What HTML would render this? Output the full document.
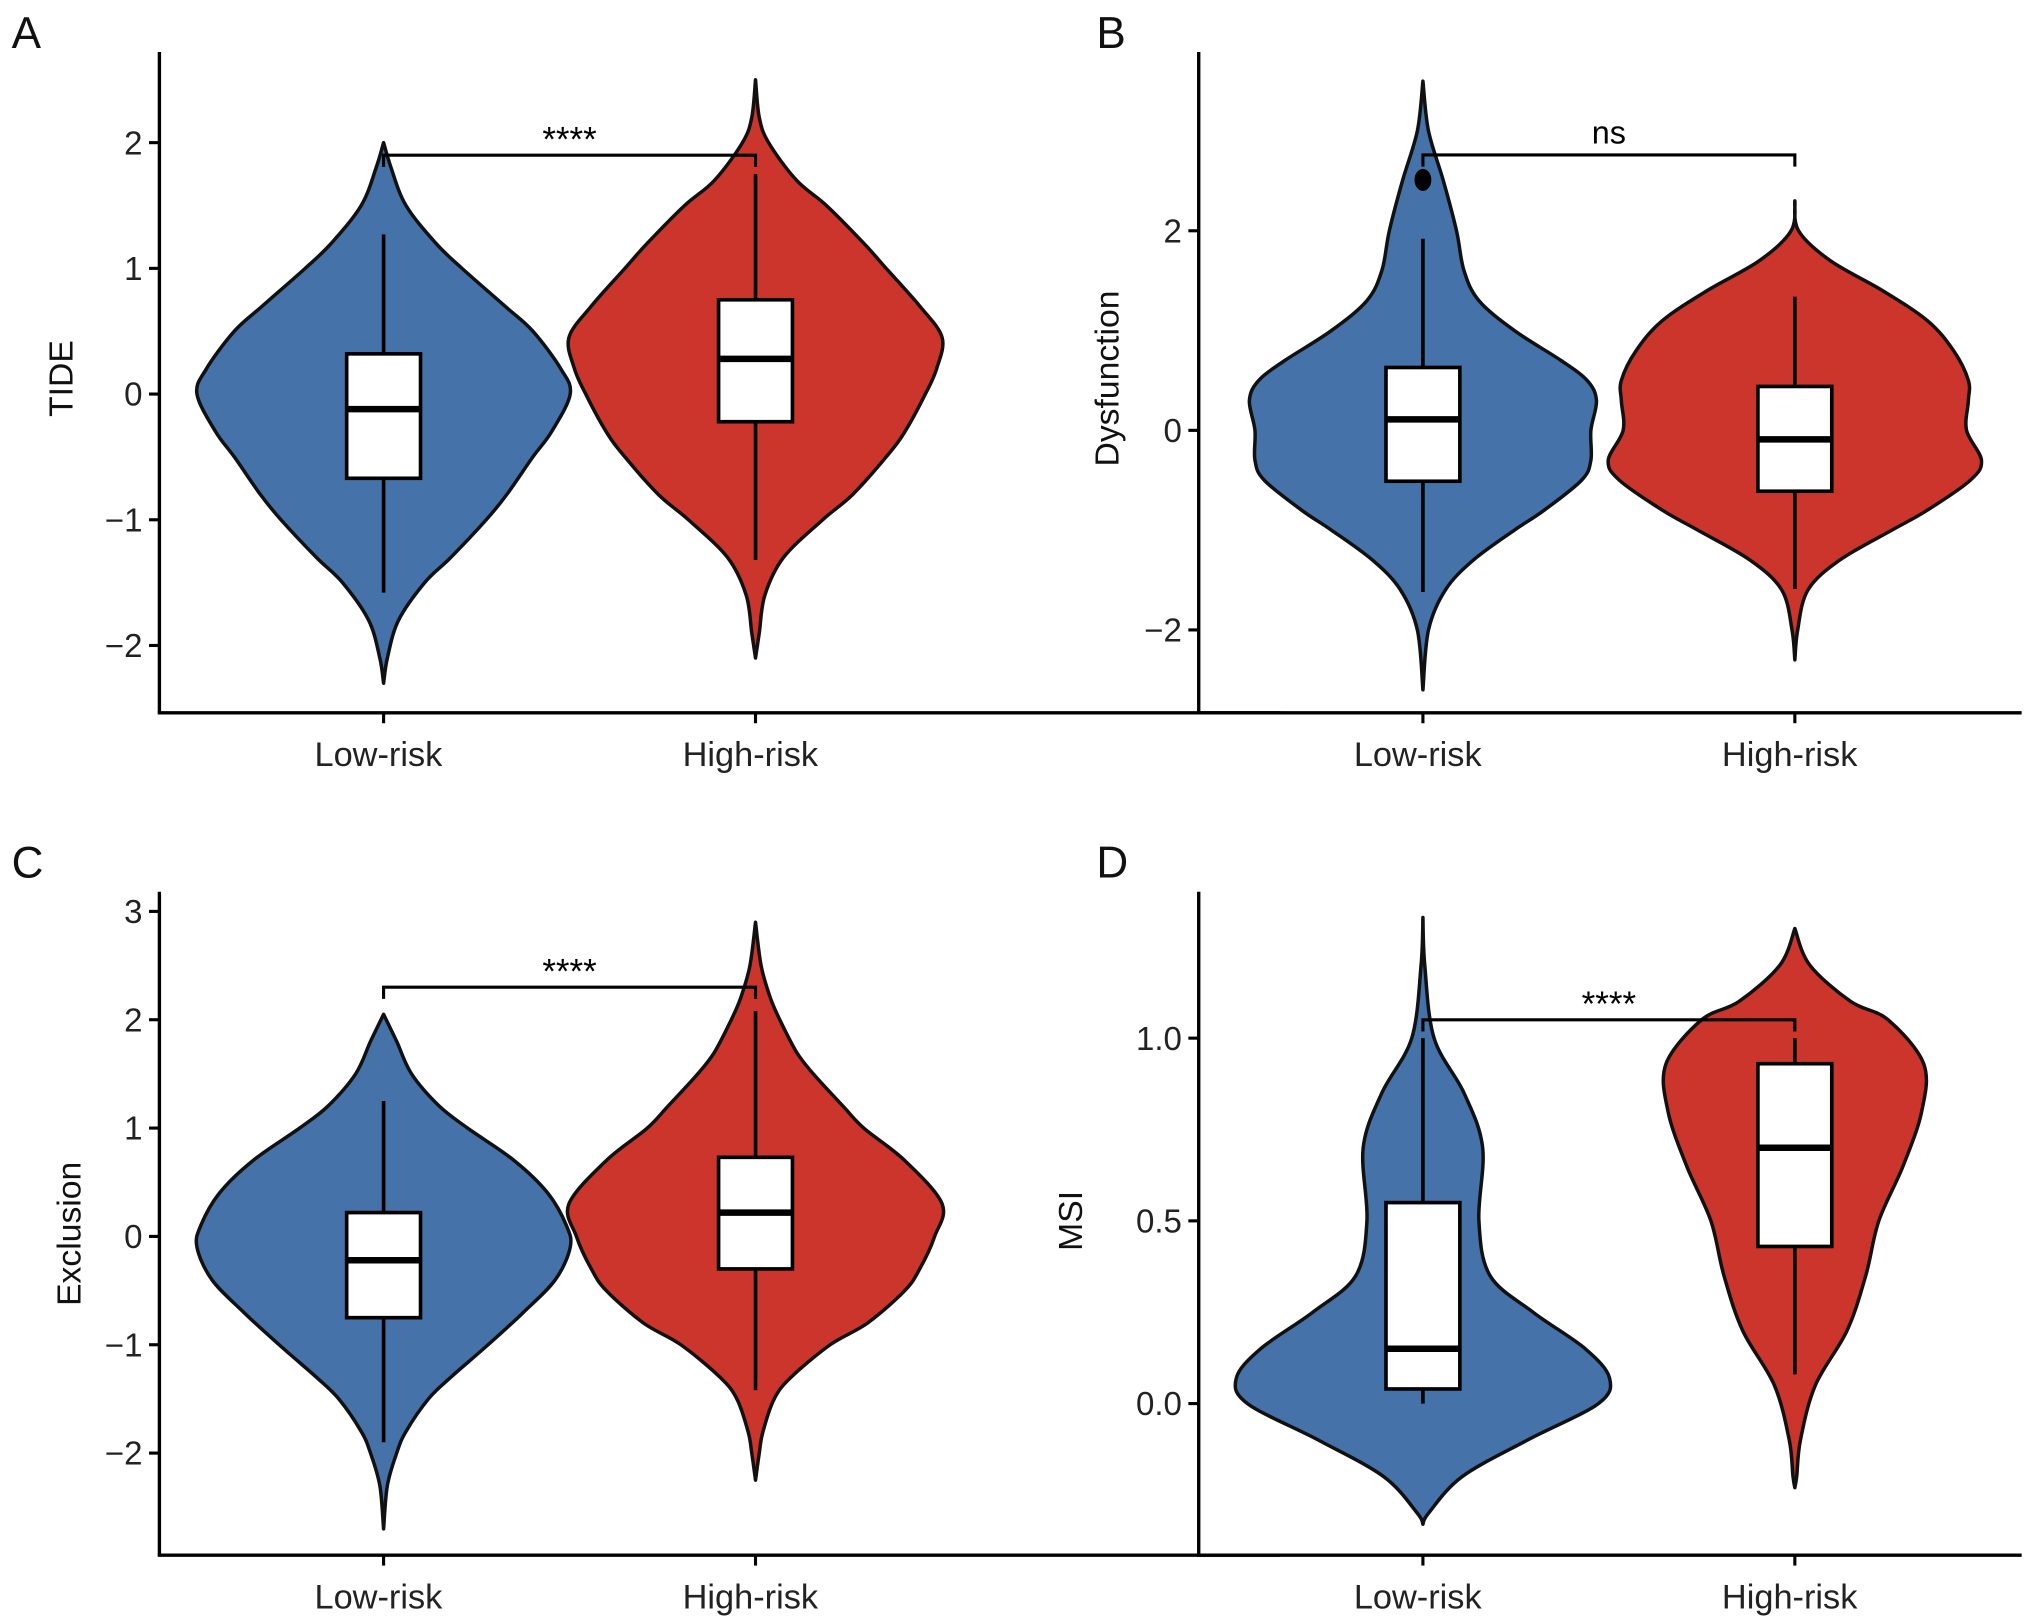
<!DOCTYPE html>
<html><head><meta charset="utf-8"><style>
html,body{margin:0;padding:0;background:#fff;}
svg{display:block;font-family:"Liberation Sans",Arial,sans-serif;}
</style></head><body>
<svg id="fig" width="2032" height="1624" viewBox="0 0 1568 1253" xmlns="http://www.w3.org/2000/svg"></svg>
<script>
const categories = ["Low-risk","High-risk"];
// Panel A (TIDE)
const aTicks = [2,1,0,-1,-2];
const aLowY = [2.0,1.8,1.5,1.2,1.0,0.7,0.5,0.2,0,-0.3,-0.5,-0.8,-1,-1.3,-1.5,-1.8,-2.1,-2.3];
const aLowW = [0,0.04,0.12,0.28,0.42,0.65,0.8,0.95,1.0,0.9,0.8,0.66,0.55,0.36,0.22,0.08,0.02,0];
const aHighY = [2.5,2.2,2.0,1.7,1.5,1.2,1.0,0.7,0.45,0.2,0,-0.3,-0.5,-0.8,-1,-1.3,-1.6,-1.9,-2.1];
const aHighW = [0,0.02,0.07,0.22,0.38,0.58,0.7,0.88,1.0,0.97,0.91,0.8,0.7,0.52,0.36,0.15,0.05,0.02,0];
const aBoxLow = [-1.58,-0.67,-0.12,0.32,1.27];
const aBoxHigh = [-1.32,-0.22,0.28,0.75,1.75];
const aSig = [1.9,"****"];
// Panel B (Dysfunction)
const bTicks = [2,0,-2];
const bLowY = [3.5,3.0,2.5,2.0,1.6,1.3,1.0,0.7,0.5,0.3,0,-0.3,-0.5,-0.8,-1,-1.3,-1.6,-2,-2.6];
const bLowW = [0,0.03,0.11,0.18,0.22,0.3,0.49,0.74,0.88,0.93,0.9,0.9,0.85,0.65,0.49,0.27,0.12,0.03,0];
const bHighY = [2.3,2.0,1.7,1.4,1.1,0.8,0.5,0.3,0,-0.3,-0.5,-0.8,-1,-1.3,-1.6,-2,-2.3];
const bHighW = [0,0.02,0.19,0.47,0.71,0.85,0.93,0.93,0.92,1.0,0.94,0.71,0.52,0.24,0.07,0.015,0];
const bBoxLow = [-1.62,-0.51,0.11,0.63,1.92];
const bBoxHigh = [-1.59,-0.61,-0.09,0.44,1.34];
const bOutliers = [2.51];
const bSig = [2.76,"ns"];
// Panel C (Exclusion)
const cTicks = [3,2,1,0,-1,-2];
const cLowY = [2.05,1.8,1.5,1.2,1.0,0.7,0.4,0.1,-0.1,-0.4,-0.7,-1,-1.3,-1.5,-1.8,-2.0,-2.3,-2.7];
const cLowW = [0,0.07,0.15,0.3,0.45,0.7,0.88,0.98,1.0,0.92,0.75,0.56,0.36,0.24,0.12,0.07,0.02,0];
const cHighY = [2.9,2.5,2.2,2.0,1.7,1.5,1.2,1.0,0.7,0.3,0,-0.3,-0.5,-0.8,-1,-1.3,-1.5,-1.8,-2.0,-2.25];
const cHighW = [0,0.03,0.08,0.13,0.22,0.31,0.47,0.58,0.8,1.0,0.96,0.88,0.8,0.6,0.4,0.19,0.1,0.04,0.02,0];
const cBoxLow = [-1.9,-0.75,-0.22,0.22,1.25];
const cBoxHigh = [-1.42,-0.3,0.22,0.73,2.08];
const cSig = [2.3,"****"];
// Panel D (MSI)
const dTicks = ["1.0","0.5","0.0"];
const dLowY = [1.33,1.2,1.0,0.85,0.7,0.5,0.35,0.25,0.15,0.07,0,-0.1,-0.2,-0.3,-0.33];
const dLowW = [0,0.01,0.06,0.22,0.32,0.3,0.36,0.59,0.87,1.0,0.94,0.56,0.21,0.03,0];
const dHighY = [1.3,1.2,1.1,1.05,0.93,0.8,0.65,0.5,0.35,0.2,0.05,-0.1,-0.2,-0.23];
const dHighW = [0,0.08,0.3,0.5,0.69,0.68,0.58,0.45,0.38,0.28,0.11,0.03,0.01,0];
const dBoxLow = [0.0,0.04,0.15,0.55,1.0];
const dBoxHigh = [0.08,0.43,0.7,0.93,1.0];
const dSig = [1.05,"****"];

const NS="http://www.w3.org/2000/svg";
const svg=document.getElementById('fig');
const BLUE="#4572a9", RED="#cc352b";
function mk(tag,attrs,parent){const e=document.createElementNS(NS,tag);for(const k in attrs)e.setAttribute(k,attrs[k]);(parent||svg).appendChild(e);return e;}

function smoothPath(pts){
  let d="M"+pts[0][0].toFixed(1)+","+pts[0][1].toFixed(1);
  for(let i=0;i<pts.length-1;i++){
    const p0=pts[Math.max(0,i-1)],p1=pts[i],p2=pts[i+1],p3=pts[Math.min(pts.length-1,i+2)];
    const c1=[p1[0]+(p2[0]-p0[0])/6,p1[1]+(p2[1]-p0[1])/6];
    const c2=[p2[0]-(p3[0]-p1[0])/6,p2[1]-(p3[1]-p1[1])/6];
    d+=" C"+c1[0].toFixed(1)+","+c1[1].toFixed(1)+" "+c2[0].toFixed(1)+","+c2[1].toFixed(1)+" "+p2[0].toFixed(1)+","+p2[1].toFixed(1);
  }
  return d;
}

function panel(cfg){
  const g=mk('g',{});
  
  
  const ys=v=>cfg.zeroY-parseFloat(v)*cfg.ppu;
  const xs=i=>cfg.cx[i];
  const vd=[[cfg.lowY,cfg.lowW,BLUE],[cfg.highY,cfg.highW,RED]];
  vd.forEach((v,i)=>{
    const right=v[0].map((y,j)=>[xs(i)+v[1][j]*cfg.hw,ys(y)]);
    const left=v[0].map((y,j)=>[xs(i)-v[1][j]*cfg.hw,ys(y)]).reverse();
    const d=smoothPath(right)+" "+smoothPath(left).replace("M","L")+" Z";
    const p=mk('path',{d:d,fill:v[2],stroke:"#111",'stroke-width':2.7,'stroke-linejoin':'round'},g);
    
    
  });
  [cfg.boxLow,cfg.boxHigh].forEach((b,i)=>{
    const bg=mk('g',{},g);
    
    
    mk('line',{x1:xs(i),x2:xs(i),y1:ys(b[0]),y2:ys(b[4]),stroke:"#000",'stroke-width':2.8},bg);
    mk('rect',{x:xs(i)-28.5,y:ys(b[3]),width:57,height:ys(b[1])-ys(b[3]),fill:"#fff",stroke:"#000",'stroke-width':2.8},bg);
    mk('line',{x1:xs(i)-28.5,x2:xs(i)+28.5,y1:ys(b[2]),y2:ys(b[2]),stroke:"#000",'stroke-width':5},bg);
  });
  (cfg.outliers||[]).forEach(o=>{
    const c=mk('ellipse',{cx:xs(0),cy:ys(o),rx:6.5,ry:8.5,fill:"#000"},g);
    
    
  });
  const sy=ys(cfg.sig[0]);
  const br=mk('path',{d:`M${xs(0)},${sy+9} L${xs(0)},${sy} L${xs(1)},${sy} L${xs(1)},${sy+9}`,fill:"none",stroke:"#000",'stroke-width':2.4},g);
  
  
  const st=mk('text',{x:(xs(0)+xs(1))/2,y:sy-(cfg.sig[1]==="ns"?9:3),'text-anchor':'middle','font-size':cfg.sig[1]==="ns"?25:27,fill:"#000"},g);
  st.textContent=cfg.sig[1];
  
  
  const ya=mk('line',{x1:cfg.ax,x2:cfg.ax,y1:cfg.top,y2:cfg.bottom,stroke:"#000",'stroke-width':2.6},g);
  
  
  const xa=mk('line',{x1:cfg.ax-1.3,x2:cfg.right,y1:cfg.bottom,y2:cfg.bottom,stroke:"#000",'stroke-width':2.6},g);
  
  
  cfg.ticks.forEach(t=>{
    const y=ys(t);
    mk('line',{x1:cfg.ax-8,x2:cfg.ax,y1:y,y2:y,stroke:"#000",'stroke-width':2.4},g);
    const tx=mk('text',{x:cfg.ax-13,y:y+9,'text-anchor':'end','font-size':25.5,fill:"#222"},g);
    tx.textContent=String(t).replace("-","\u2212");
    
    
  });
  categories.forEach((c,i)=>{
    mk('line',{x1:xs(i),x2:xs(i),y1:cfg.bottom,y2:cfg.bottom+8,stroke:"#000",'stroke-width':2.4},g);
    const tx=mk('text',{x:xs(i)-4,y:cfg.bottom+41,'text-anchor':'middle','font-size':26.5,fill:"#222"},g);
    tx.textContent=c;
    
    
  });
  const yt=mk('text',{x:0,y:0,transform:`translate(${cfg.titleX},${cfg.titleY}) rotate(-90)`,'text-anchor':'middle','font-size':26,fill:"#111"},g);
  yt.textContent=cfg.title;
  
  
  const lt=mk('text',{x:cfg.letterX,y:cfg.letterY,'font-size':34,fill:"#111"},g);
  lt.textContent=cfg.id;
  
  
}

panel({id:"A",zeroY:304,ppu:97,cx:[296,583],hw:144,ax:123,top:40,bottom:550,right:988,
  lowY:aLowY,lowW:aLowW,highY:aHighY,highW:aHighW,boxLow:aBoxLow,boxHigh:aBoxHigh,sig:aSig,
  ticks:aTicks,title:"TIDE",titleX:56,titleY:292,letterX:9,letterY:37});
panel({id:"B",zeroY:332,ppu:77,cx:[1098,1385],hw:144,ax:925,top:40,bottom:550,right:1560,
  lowY:bLowY,lowW:bLowW,highY:bHighY,highW:bHighW,boxLow:bBoxLow,boxHigh:bBoxHigh,outliers:bOutliers,sig:bSig,
  ticks:bTicks,title:"Dysfunction",titleX:863,titleY:292,letterX:846,letterY:37});
panel({id:"C",zeroY:954,ppu:83.6,cx:[296,583],hw:144,ax:123,top:688,bottom:1200,right:988,
  lowY:cLowY,lowW:cLowW,highY:cHighY,highW:cHighW,boxLow:cBoxLow,boxHigh:cBoxHigh,sig:cSig,
  ticks:cTicks,title:"Exclusion",titleX:62,titleY:952,letterX:9,letterY:677});
panel({id:"D",zeroY:1083,ppu:282,cx:[1098,1385],hw:144,ax:925,top:688,bottom:1200,right:1560,
  lowY:dLowY,lowW:dLowW,highY:dHighY,highW:dHighW,boxLow:dBoxLow,boxHigh:dBoxHigh,sig:dSig,
  ticks:dTicks,title:"MSI",titleX:835,titleY:942,letterX:846,letterY:677});
</script>
</body></html>
